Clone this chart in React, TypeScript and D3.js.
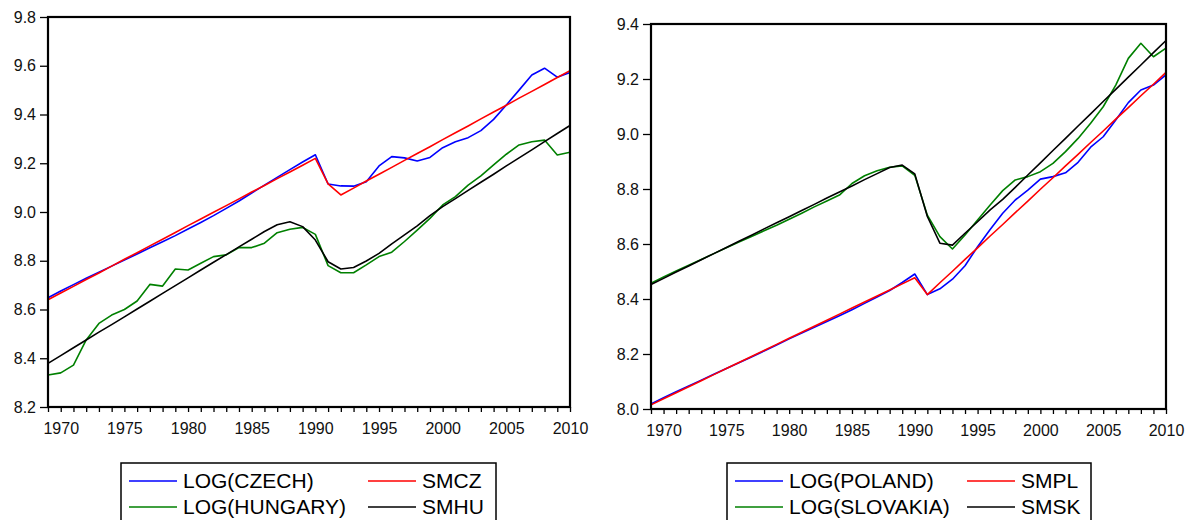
import React, { useEffect, useRef } from "react";
import * as d3 from "d3";

const years = d3.range(1969, 2011);

// left panel
const logCzech = [
  8.648, 8.676, 8.702, 8.728, 8.753, 8.778, 8.803, 8.828, 8.853, 8.878, 8.903,
  8.93, 8.957, 8.985, 9.015, 9.045, 9.078, 9.11, 9.142, 9.174, 9.205, 9.235,
  9.115, 9.107, 9.106, 9.124, 9.189, 9.227, 9.222, 9.209, 9.224, 9.264, 9.288,
  9.305, 9.334, 9.38, 9.439, 9.5, 9.562, 9.59, 9.553, 9.572,
];
const smCz = [
  8.64, 8.668, 8.695, 8.723, 8.75, 8.778, 8.806, 8.833, 8.861, 8.888, 8.916,
  8.944, 8.971, 8.999, 9.026, 9.054, 9.082, 9.109, 9.137, 9.164, 9.192, 9.22,
  9.115, 9.07, 9.098, 9.127, 9.155, 9.183, 9.212, 9.24, 9.268, 9.297, 9.325,
  9.353, 9.382, 9.41, 9.438, 9.467, 9.495, 9.523, 9.552, 9.58,
];
const logHungary = [
  8.331, 8.34, 8.372, 8.475, 8.543, 8.577, 8.6, 8.635, 8.703, 8.696, 8.766,
  8.762, 8.79, 8.817, 8.824, 8.854, 8.854, 8.872, 8.915, 8.929, 8.937, 8.908,
  8.78, 8.751, 8.751, 8.783, 8.817, 8.835, 8.879, 8.926, 8.974, 9.029, 9.063,
  9.11, 9.148, 9.193, 9.237, 9.275, 9.288, 9.295, 9.234, 9.245,
];
const smHu = [
  8.379, 8.411, 8.443, 8.475, 8.507, 8.538, 8.57, 8.602, 8.634, 8.666, 8.698,
  8.73, 8.762, 8.794, 8.825, 8.857, 8.888, 8.92, 8.948, 8.96, 8.94, 8.885,
  8.796, 8.766, 8.772, 8.799, 8.83, 8.869, 8.906, 8.943, 8.985, 9.022, 9.055,
  9.089, 9.122, 9.155, 9.189, 9.222, 9.255, 9.289, 9.322, 9.355,
];

// right panel
const logPoland = [
  8.018, 8.041, 8.063, 8.084, 8.105, 8.126, 8.147, 8.168, 8.189, 8.211, 8.233,
  8.255, 8.276, 8.297, 8.318, 8.339, 8.361, 8.384, 8.407, 8.431, 8.46, 8.491,
  8.416, 8.437, 8.472, 8.521, 8.59, 8.653, 8.712, 8.76, 8.796, 8.836, 8.845,
  8.859, 8.897, 8.952, 8.99, 9.051, 9.114, 9.16, 9.178, 9.215,
];
const smPl = [
  8.015, 8.037, 8.059, 8.081, 8.103, 8.125, 8.147, 8.169, 8.191, 8.213, 8.235,
  8.257, 8.279, 8.301, 8.323, 8.345, 8.367, 8.389, 8.411, 8.433, 8.455, 8.477,
  8.416, 8.459, 8.501, 8.544, 8.586, 8.629, 8.671, 8.714, 8.756, 8.799, 8.841,
  8.884, 8.926, 8.969, 9.011, 9.054, 9.096, 9.139, 9.181, 9.224,
];
const logSlovakia = [
  8.457, 8.48, 8.502, 8.523, 8.544, 8.565, 8.586, 8.607, 8.627, 8.648, 8.668,
  8.69, 8.712, 8.735, 8.756, 8.778, 8.82, 8.848, 8.866, 8.879, 8.884, 8.85,
  8.705, 8.627, 8.582, 8.633, 8.687, 8.742, 8.794, 8.833, 8.845, 8.863, 8.893,
  8.936, 8.984, 9.039, 9.099, 9.178, 9.275, 9.33, 9.281, 9.312,
];
const smSk = [
  8.453, 8.475, 8.498, 8.52, 8.543, 8.565, 8.587, 8.61, 8.632, 8.655, 8.677,
  8.699, 8.722, 8.744, 8.767, 8.789, 8.811, 8.834, 8.856, 8.878, 8.887, 8.855,
  8.7, 8.603, 8.596, 8.639, 8.681, 8.724, 8.762, 8.806, 8.851, 8.895, 8.94,
  8.984, 9.029, 9.073, 9.118, 9.162, 9.207, 9.251, 9.296, 9.34,
];

const leftTicks = [8.2, 8.4, 8.6, 8.8, 9.0, 9.2, 9.4, 9.6, 9.8];
const rightTicks = [8.0, 8.2, 8.4, 8.6, 8.8, 9.0, 9.2, 9.4];
const yearTicks = [1970, 1975, 1980, 1985, 1990, 1995, 2000, 2005, 2010];

const leftNames = ["LOG(CZECH)", "SMCZ", "LOG(HUNGARY)", "SMHU"];
const rightNames = ["LOG(POLAND)", "SMPL", "LOG(SLOVAKIA)", "SMSK"];
const colors = ["#0000ff", "#ff0000", "#008000", "#000000"];

const FONT = "'Liberation Sans', Arial, sans-serif";

interface PanelDef {
  left: number;
  right: number;
  top: number;
  bottom: number;
  domain: [number, number];
  ticks: number[];
  series: number[][];
  names: string[];
  legend: { x0: number; x1: number; col2: number };
}

const panels: PanelDef[] = [
  {
    left: 48, right: 570, top: 17, bottom: 407,
    domain: [8.2, 9.8], ticks: leftTicks,
    series: [logCzech, smCz, logHungary, smHu], names: leftNames,
    legend: { x0: 121, x1: 496, col2: 368 },
  },
  {
    left: 651, right: 1166, top: 24, bottom: 409,
    domain: [8.0, 9.4], ticks: rightTicks,
    series: [logPoland, smPl, logSlovakia, smSk], names: rightNames,
    legend: { x0: 727, x1: 1091, col2: 967 },
  },
];

const App: React.FC = () => {
  const ref = useRef<SVGSVGElement>(null);

  useEffect(() => {
    if (!ref.current) return;
    const svg = d3.select(ref.current);
    svg.selectAll("*").remove();

    panels.forEach((p) => {
      const x = d3.scaleLinear().domain([1969, 2010]).range([p.left, p.right]);
      const y = d3.scaleLinear().domain(p.domain).range([p.bottom, p.top]);
      const g = svg.append("g");

      // y axis
      const ya = g.append("g").attr("transform", `translate(${p.left},0)`)
        .call(d3.axisLeft(y).tickValues(p.ticks).tickSize(8).tickSizeOuter(0).tickPadding(4)
          .tickFormat((d) => d3.format(".1f")(d as number)));
      ya.select(".domain").remove();
      ya.selectAll("line").attr("stroke", "#000").attr("stroke-width", 1.3);
      ya.selectAll("text").attr("font-family", FONT).attr("font-size", 16).attr("fill", "#111");

      // x axis: a small tick every year
      const xa = g.append("g").attr("transform", `translate(0,${p.bottom})`)
        .call(d3.axisBottom(x).tickValues(years).tickSize(5).tickSizeOuter(0).tickFormat(() => ""));
      xa.select(".domain").remove();
      xa.selectAll("line").attr("stroke", "#000").attr("stroke-width", 1.3);

      const xl = g.append("g").attr("transform", `translate(0,${p.bottom})`)
        .call(d3.axisBottom(x).tickValues(yearTicks).tickSize(0).tickPadding(16)
          .tickFormat((d) => String(d)));
      xl.select(".domain").remove();
      xl.selectAll("text").attr("font-family", FONT).attr("font-size", 16).attr("fill", "#111");

      // series (green/black under blue/red)
      const line = d3.line<number>()
        .x((_, i) => x(years[i]))
        .y((d) => y(d));
      [2, 3, 0, 1].forEach((k) => {
        g.append("path")
          .datum(p.series[k])
          .attr("d", line)
          .attr("fill", "none")
          .attr("stroke", colors[k])
          .attr("stroke-width", 1.6)
          .attr("stroke-linejoin", "round");
      });

      // frame
      g.append("rect")
        .attr("x", p.left).attr("y", p.top)
        .attr("width", p.right - p.left).attr("height", p.bottom - p.top)
        .attr("fill", "none").attr("stroke", "#000").attr("stroke-width", 2.2);

      // legend
      const L = p.legend;
      g.append("rect")
        .attr("x", L.x0).attr("y", 463)
        .attr("width", L.x1 - L.x0).attr("height", 70)
        .attr("fill", "none").attr("stroke", "#000").attr("stroke-width", 1.5);
      const rows = [481, 507];
      p.names.forEach((name, k) => {
        const row = Math.floor(k / 2);
        const lx = k % 2 === 0 ? L.x0 + 8 : L.col2;
        g.append("line")
          .attr("x1", lx).attr("x2", lx + 48)
          .attr("y1", rows[row]).attr("y2", rows[row])
          .attr("stroke", colors[k]).attr("stroke-width", 1.6);
        g.append("text")
          .attr("x", lx + 54).attr("y", rows[row] + 7)
          .attr("font-family", FONT).attr("font-size", 21).attr("fill", "#000")
          .text(name);
      });
    });
  }, []);

  return (
    <svg
      ref={ref}
      width={1190}
      height={520}
      style={{ position: "absolute", left: 0, top: 0, background: "#fff" }}
    />
  );
};

export default App;
